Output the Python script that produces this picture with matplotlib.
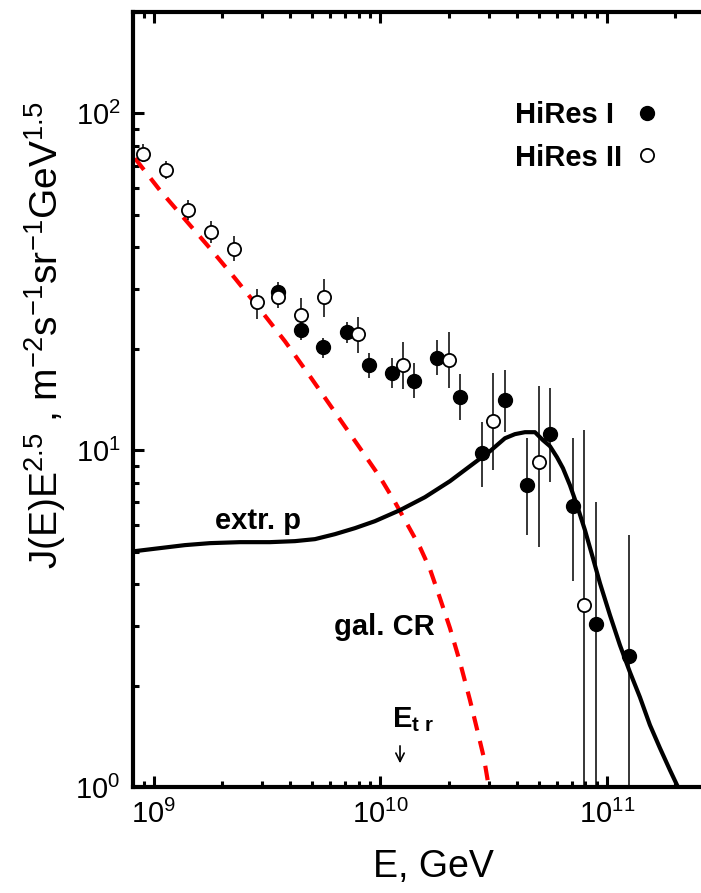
import numpy as np
import matplotlib
matplotlib.use('Agg')
import matplotlib.pyplot as plt

plt.rcParams['font.family'] = ['Liberation Sans', 'DejaVu Sans']
plt.rcParams['mathtext.fontset'] = 'custom'
plt.rcParams['mathtext.rm'] = 'Liberation Sans'
plt.rcParams['mathtext.it'] = 'Liberation Sans:italic'
plt.rcParams['mathtext.bf'] = 'Liberation Sans:bold'

# HiRes I (filled circles)
E1 = [3.54e9, 4.46e9, 5.6e9, 7.1e9, 8.93e9, 1.12e10, 1.41e10, 1.77e10,
      2.24e10, 2.81e10, 3.55e10, 4.45e10, 5.6e10, 7.05e10, 8.96e10, 1.256e11]
J1 = [29.4, 22.7, 20.2, 22.4, 17.96, 16.9, 16.1, 18.8,
      14.4, 9.78, 14.07, 7.86, 11.15, 6.82, 3.05, 2.45]
J1_lo = [27.5, 21.2, 18.75, 20.8, 16.4, 15.3, 14.3, 16.7,
         12.3, 7.77, 11.3, 5.6, 8.04, 4.09, 0.5, 0.5]
J1_hi = [31.5, 24.3, 21.6, 24.0, 19.5, 18.75, 18.1, 21.2,
         16.8, 12.1, 17.3, 10.9, 15.3, 10.9, 7.0, 5.6]

# HiRes II (open circles)
E2 = [8.9e8, 1.13e9, 1.42e9, 1.79e9, 2.25e9, 2.84e9, 3.54e9, 4.47e9,
      5.65e9, 7.93e9, 1.26e10, 2.0e10, 3.15e10, 4.99e10, 7.9e10]
J2 = [76, 68, 51.5, 44.3, 39.7, 27.5, 28.5, 25.2,
      28.5, 22.2, 17.9, 18.5, 12.2, 9.2, 3.47]
J2_lo = [71.6, 63.7, 48.1, 41.2, 36.4, 24.6, 26.4, 22.5,
         24.8, 19.5, 15.2, 15.3, 8.73, 5.15, 0.5]
J2_hi = [80.9, 72.0, 55.2, 47.8, 43.2, 30.2, 30.9, 28.4,
         32.2, 24.8, 20.9, 22.4, 16.9, 15.5, 11.5]

# galactic CR (red dashed)
E_gal = [8.24e8, 1.063e9, 1.37e9, 1.767e9, 2.279e9, 2.938e9, 3.787e9, 4.883e9,
         6.298e9, 8.12e9, 9.95e9, 1.159e10, 1.35e10, 1.494e10, 1.654e10,
         1.831e10, 2.027e10, 2.244e10, 2.484e10, 2.695e10, 2.864e10,
         2.983e10, 3.044e10]
J_gal = [73.55, 59.09, 48.47, 39.77, 32.39, 26.2, 21.06, 16.58,
         12.97, 10.14, 8.317, 7.012, 5.829, 5.155, 4.436,
         3.638, 2.964, 2.349, 1.812, 1.446, 1.219,
         1.035, 0.96]

# extragalactic protons (black solid)
E_ex = [8.24e8, 1.063e9, 1.37e9, 1.767e9, 2.397e9, 3.252e9, 4.193e9, 5.137e9,
        6.298e9, 7.717e9, 9.456e9, 1.2195e10, 1.572e10, 2.027e10, 2.484e10,
        3.044e10, 3.545e10, 3.925e10, 4.345e10, 4.81e10, 5.217e10, 5.602e10,
        6.016e10, 6.393e10, 6.865e10, 7.372e10, 7.997e10, 8.675e10, 9.314e10,
        1.031e11, 1.141e11, 1.263e11, 1.398e11, 1.548e11, 1.714e11, 1.897e11,
        2.058e11, 2.143e11]
J_ex = [5.015, 5.12, 5.226, 5.297, 5.333, 5.333, 5.37, 5.444,
        5.633, 5.869, 6.156, 6.637, 7.253, 8.091, 8.965,
        9.931, 10.85, 11.16, 11.31, 11.31, 10.71, 10.28,
        9.533, 8.843, 7.873, 6.867, 5.789, 4.78, 4.03,
        3.239, 2.638, 2.194, 1.849, 1.528, 1.305, 1.123,
        1.0, 0.934]

fig = plt.figure(figsize=(7.01, 8.93), dpi=100)
ax = fig.add_axes([133/701, 106/893, 582/701, 775/893])

ax.plot(E_gal, J_gal, color='#ff0000', lw=3, ls=(0, (3.5, 2.6)), zorder=2)
ax.plot(E_ex, J_ex, color='black', lw=3, zorder=2)

J1a, J2a = np.array(J1), np.array(J2)
ax.errorbar(E1, J1, yerr=[J1a - np.array(J1_lo), np.array(J1_hi) - J1a],
            fmt='none', ecolor='black', elinewidth=1.1, zorder=3)
ax.errorbar(E2, J2, yerr=[J2a - np.array(J2_lo), np.array(J2_hi) - J2a],
            fmt='none', ecolor='black', elinewidth=1.1, zorder=3)
ax.plot(E1, J1, 'o', color='black', ms=10, label='HiRes I ', zorder=4)
ax.plot(E2, J2, 'o', mfc='white', mec='black', mew=1.3, ms=9.5,
        label='HiRes II', zorder=5)

ax.set_xscale('log')
ax.set_yscale('log')
ax.set_xlim(8.08e8, 3e11)
ax.set_ylim(1, 200)

for s in ax.spines.values():
    s.set_linewidth(3)
ax.tick_params(which='both', direction='in', top=True, right=True,
               labelsize=21, pad=9)
ax.tick_params(which='major', length=8, width=2.2)
ax.tick_params(which='minor', length=4.5, width=2.2)

ax.set_xlabel('E, GeV', fontsize=27)
ax.xaxis.set_label_coords(0.517, -0.08)
ax.set_ylabel(r'J(E)E$^{2.5}$ , m$^{-2}$s$^{-1}$sr$^{-1}$GeV$^{1.5}$', fontsize=28)
ax.yaxis.set_label_coords(-0.112, 0.583)

ax.text(2.88e9, 6.15, 'extr. p', fontsize=21, fontweight='bold',
        ha='center', va='center')
ax.text(1.036e10, 2.98, 'gal. CR', fontsize=21, fontweight='bold',
        ha='center', va='center')
ax.text(1.124e10, 1.507, r'$\mathbf{E}_{\mathbf{t\ r}}$', fontsize=21,
        ha='left', va='baseline')
ax.annotate('', xy=(1.22e10, 1.154), xytext=(1.22e10, 1.35),
            arrowprops=dict(arrowstyle='->', color='black', lw=1.2,
                            mutation_scale=15))

ax.legend(loc='upper left', bbox_to_anchor=((515-133)/582, (787-101)/775),
          frameon=False, markerfirst=False,
          prop={'weight': 'bold', 'size': 21},
          borderpad=0, borderaxespad=0, handletextpad=0.5,
          handlelength=0.7, labelspacing=0.5)

fig.savefig('out.png', dpi=100)
